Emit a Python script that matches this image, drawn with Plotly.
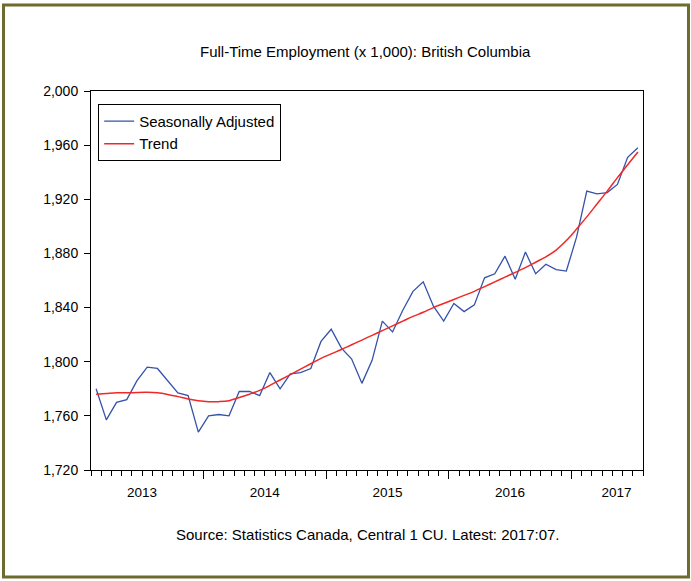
import numpy as np
import pandas as pd
import plotly.graph_objects as go

# ---- data ----
months = pd.date_range("2013-02-01", periods=54, freq="MS")
seasonally_adjusted = [
    1780, 1757, 1770, 1772, 1786, 1796, 1795, 1786, 1777, 1775, 1748,
    1760, 1761, 1760, 1778, 1778, 1775, 1792, 1780, 1791, 1792, 1795, 1815,
    1824, 1810, 1802, 1784, 1801, 1830, 1822, 1838, 1852, 1859, 1841, 1830,
    1843, 1837, 1842, 1862, 1865, 1878, 1861, 1881, 1865, 1872, 1868, 1867,
    1892, 1926, 1924, 1925, 1931, 1951, 1958,
]
trend = [
    1776, 1776.5, 1777, 1777, 1777.3, 1777.4, 1777, 1775.8, 1774.2, 1772.5, 1771.2,
    1770.5, 1770.5, 1771.2, 1773.5, 1776, 1778.8, 1782.5, 1786.5, 1790.5, 1794.5, 1798.5, 1802.5,
    1805.8, 1809, 1812.5, 1816, 1819.5, 1823, 1826.5, 1830, 1833.5, 1836.5, 1840, 1843,
    1846, 1849, 1852, 1855.5, 1859, 1862.5, 1866, 1869.5, 1873.5, 1877.5, 1882.5, 1889.5,
    1898, 1907, 1916.5, 1926, 1936, 1945.5, 1955,
]
year_labels = ["2013", "2014", "2015", "2016", "2017"]
y_ticks = [1720, 1760, 1800, 1840, 1880, 1920, 1960, 2000]

title_text = "Full-Time Employment (x 1,000): British Columbia"
source_text = "Source: Statistics Canada, Central 1 CU. Latest: 2017:07."

# ---- derived positions ----
x = np.arange(len(months))
year_bounds = [i - 0.5 for i, m in enumerate(months) if m.month == 1]
year_label_pos = [4.5, 16.5, 28.5, 40.5, 50.9]
xr = [-0.5, len(months) - 0.5]

FONT = "Liberation Sans, Arial, sans-serif"

fig = go.Figure()
fig.add_trace(go.Scatter(x=x, y=seasonally_adjusted, mode="lines",
                         name="Seasonally Adjusted",
                         line=dict(color="#3552a8", width=1.3)))
fig.add_trace(go.Scatter(x=x, y=trend, mode="lines", name="Trend",
                         line=dict(color="#f02828", width=1.5, shape="spline")))
# invisible trace to carry the label axis
fig.add_trace(go.Scatter(x=[xr[0]], y=[1720], xaxis="x2", mode="markers",
                         marker=dict(opacity=0), showlegend=False, hoverinfo="skip"))

fig.update_layout(
    width=691, height=581,
    margin=dict(l=91, r=48, t=91, b=111),
    paper_bgcolor="white", plot_bgcolor="white",
    font=dict(family=FONT, size=15, color="black"),
    showlegend=True,
    legend=dict(x=0.013, y=0.966, xanchor="left", yanchor="top",
                bgcolor="white", bordercolor="black", borderwidth=1,
                font=dict(family=FONT, size=15), itemwidth=30,
                tracegroupgap=0),
    xaxis=dict(range=xr, showgrid=False, zeroline=False,
               showline=True, linecolor="black", linewidth=1, mirror=True,
               tickmode="array", tickvals=year_bounds,
               ticktext=[""] * len(year_bounds),
               ticks="outside", ticklen=8, tickcolor="black", tickwidth=1,
               minor=dict(ticks="outside", ticklen=5, tickcolor="black",
                          tickwidth=1, tick0=-0.5, dtick=1, showgrid=False)),
    xaxis2=dict(range=xr, overlaying="x", side="bottom", anchor="y",
                showgrid=False, zeroline=False, showline=False,
                tickmode="array", tickvals=year_label_pos, ticktext=year_labels,
                ticks="outside", ticklen=10, tickcolor="rgba(0,0,0,0)",
                tickfont=dict(family=FONT, size=13.5)),
    yaxis=dict(range=[1720, 2000], showgrid=False, zeroline=False,
               showline=True, linecolor="black", linewidth=1, mirror=True,
               tickmode="array", tickvals=y_ticks, tickformat=",",
               ticks="outside", ticklen=6, tickcolor="black",
               ticklabelstandoff=3,
               tickfont=dict(family=FONT, size=14)),
    annotations=[
        dict(text=title_text, xref="paper", yref="paper", x=0.498, y=1.103,
             showarrow=False, font=dict(family=FONT, size=15),
             xanchor="center", yanchor="middle"),
        dict(text=source_text, xref="paper", yref="paper", x=0.502, y=-0.1715,
             showarrow=False, font=dict(family=FONT, size=15),
             xanchor="center", yanchor="middle"),
    ],
    shapes=[
        dict(type="rect", xref="paper", yref="paper",
             x0=-0.1585, x1=1.0824, y0=-0.2823, y1=1.2269,
             line=dict(color="#6e6b2f", width=3), fillcolor="rgba(0,0,0,0)",
             layer="below"),
    ],
)

fig.write_html("out.html",
               config={"displayModeBar": False},
               post_script="document.body.style.margin='0';document.body.style.overflow='hidden';")
